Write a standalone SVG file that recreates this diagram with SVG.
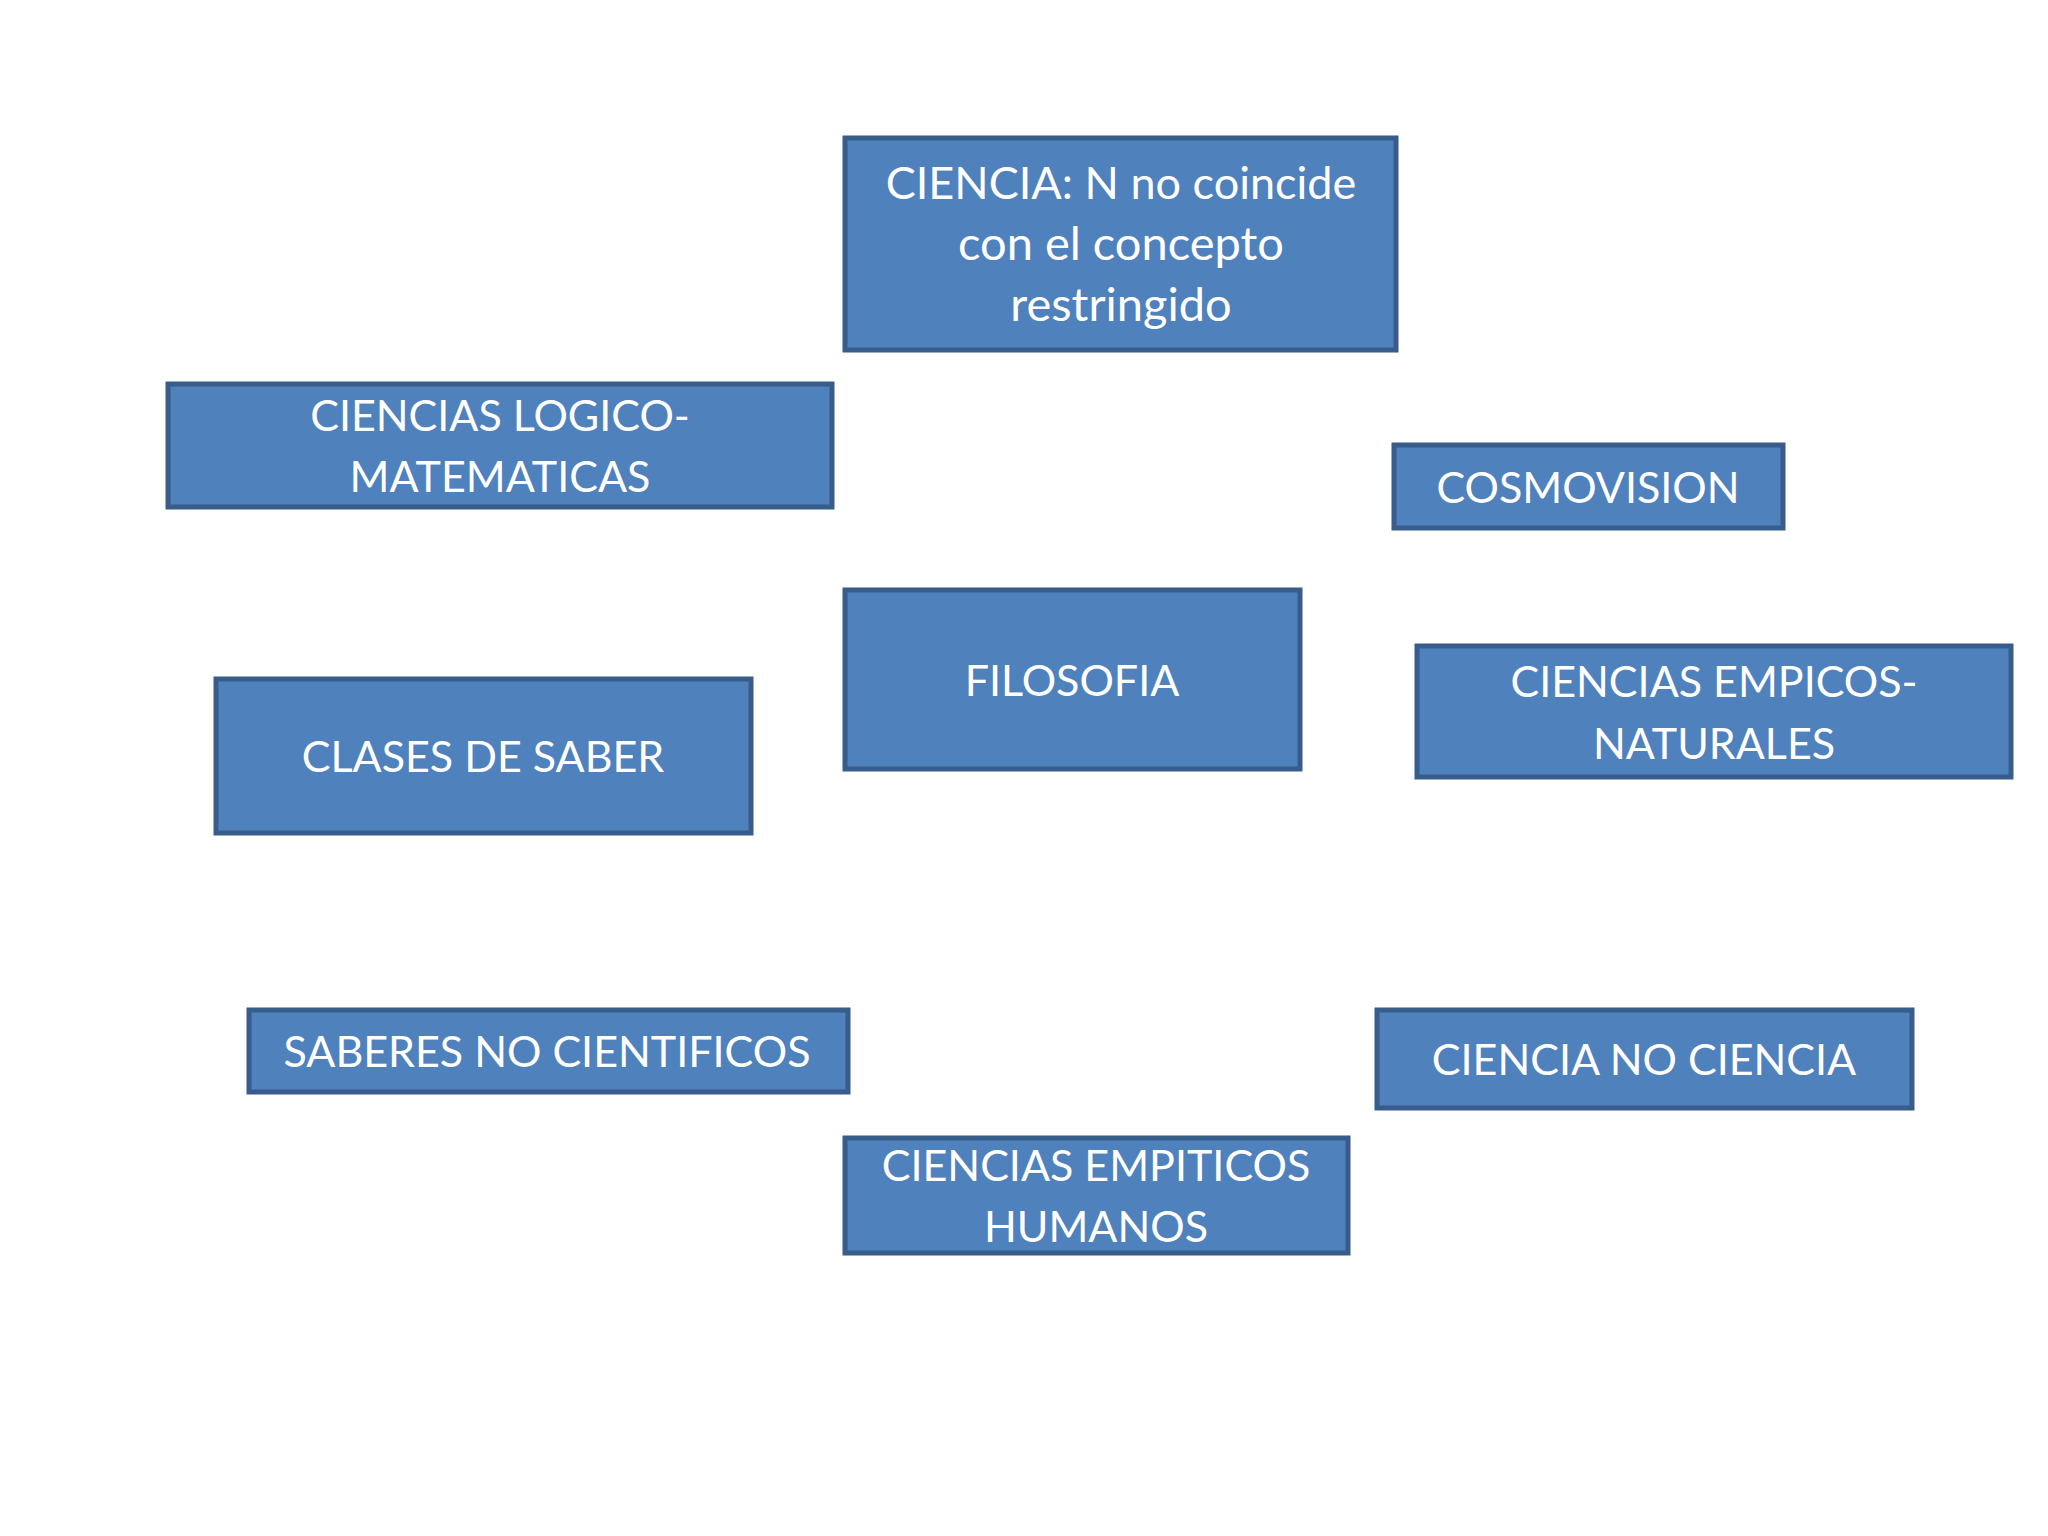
<svg xmlns="http://www.w3.org/2000/svg" width="2048" height="1536" viewBox="0 0 2048 1536">
<style>
.box{fill:#4F81BD;stroke:#385D8A;stroke-width:5}
.t{font-family:Lato,"Open Sans","Liberation Sans",sans-serif;font-size:43px;fill:#FFFFFF;text-anchor:middle}
.m{font-size:45px}
.l{font-size:47px}
</style>
<rect width="2048" height="1536" fill="#FFFFFF"/>
<g id="connectors"></g>
<g id="n-ciencia"><rect class="box" x="845" y="138" width="551" height="212"/>
<text class="t m" x="1121" y="199">CIENCIA: N no coincide</text>
<text class="t l" x="1121" y="260">con el concepto</text>
<text class="t l" x="1121" y="321">restringido</text></g>
<g id="n-logico"><rect class="box" x="168" y="384" width="664" height="123"/>
<text class="t" x="500" y="431">CIENCIAS LOGICO-</text>
<text class="t" x="500" y="492">MATEMATICAS</text></g>
<g id="n-cosmovision"><rect class="box" x="1394" y="445" width="389" height="83"/>
<text class="t" x="1588" y="503">COSMOVISION</text></g>
<g id="n-filosofia"><rect class="box" x="845" y="590" width="455" height="179"/>
<text class="t" x="1072" y="696">FILOSOFIA</text></g>
<g id="n-clases"><rect class="box" x="216" y="679" width="535" height="154"/>
<text class="t" x="483" y="772">CLASES DE SABER</text></g>
<g id="n-naturales"><rect class="box" x="1417" y="646" width="594" height="131"/>
<text class="t" x="1714" y="697">CIENCIAS EMPICOS-</text>
<text class="t" x="1714" y="759">NATURALES</text></g>
<g id="n-saberes"><rect class="box" x="249" y="1010" width="599" height="82"/>
<text class="t" x="547" y="1067">SABERES NO CIENTIFICOS</text></g>
<g id="n-cienciano"><rect class="box" x="1377" y="1010" width="535" height="98"/>
<text class="t" x="1644" y="1075">CIENCIA NO CIENCIA</text></g>
<g id="n-humanos"><rect class="box" x="845" y="1138" width="503" height="115"/>
<text class="t" x="1096" y="1181">CIENCIAS EMPITICOS</text>
<text class="t" x="1096" y="1242">HUMANOS</text></g>
</svg>
